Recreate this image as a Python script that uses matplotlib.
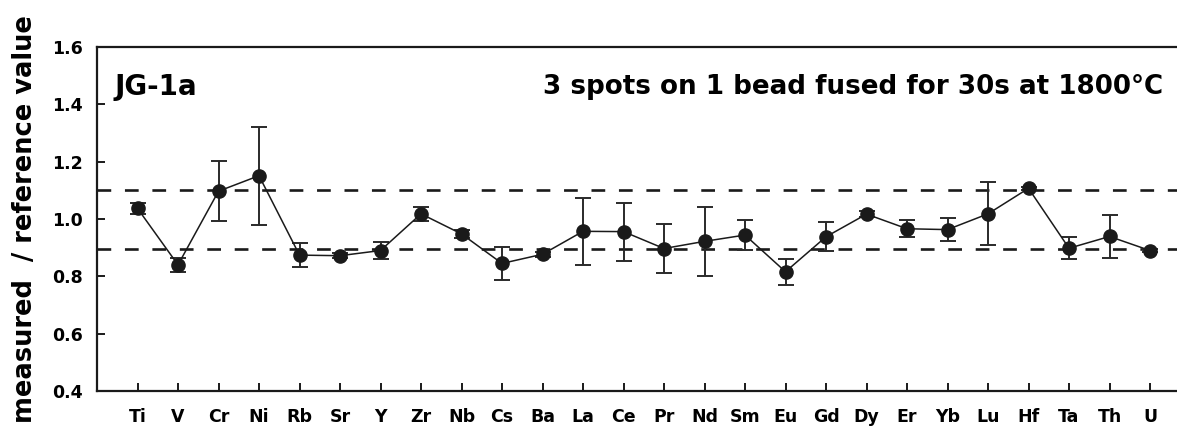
import matplotlib
matplotlib.use("Agg")
import matplotlib.pyplot as plt
import numpy as np

plt.rcParams['font.family'] = ['DejaVu Sans']
plt.rcParams['font.weight'] = 'bold'

elements = ["Ti", "V", "Cr", "Ni", "Rb", "Sr", "Y", "Zr", "Nb", "Cs", "Ba", "La", "Ce",
            "Pr", "Nd", "Sm", "Eu", "Gd", "Dy", "Er", "Yb", "Lu", "Hf", "Ta", "Th", "U"]
ratio = [1.037, 0.840, 1.097, 1.151, 0.874, 0.872, 0.890, 1.018, 0.948, 0.845, 0.877, 0.957, 0.956,
         0.897, 0.922, 0.944, 0.816, 0.938, 1.017, 0.966, 0.963, 1.018, 1.107, 0.898, 0.939, 0.890]
err = [0.018, 0.025, 0.105, 0.171, 0.042, 0.008, 0.030, 0.025, 0.014, 0.058, 0.008, 0.116, 0.101,
       0.085, 0.120, 0.051, 0.045, 0.050, 0.010, 0.030, 0.040, 0.110, 0.005, 0.039, 0.076, 0.006]
limits = [1.1, 0.895]

dark = '#1a1a1a'

fig = plt.figure(figsize=(11.77, 4.29), dpi=100)
ax = fig.add_axes([97 / 1177, 38 / 429, 1093.5 / 1177, 344 / 429])

x = np.arange(len(elements))
for lim in limits:
    ax.axhline(lim, color=dark, lw=1.9, dashes=(5.2, 5.2), zorder=1)

ax.errorbar(x, ratio, yerr=err, fmt='-o', color=dark, lw=1.1, ms=9.5,
            ecolor='#2a2a2a', elinewidth=1.4, capsize=5.5, capthick=1.4, zorder=3)

ax.set_xlim(-1, 26)
ax.set_ylim(0.4, 1.6)
ax.set_yticks([0.4, 0.6, 0.8, 1.0, 1.2, 1.4, 1.6])
ax.set_xticks(x)
ax.set_xticklabels(elements)
ax.tick_params(direction='in', length=6, width=1.4, labelsize=12.5, color=dark)
ax.tick_params(axis='x', pad=12)
ax.tick_params(axis='y', pad=10)
for lab in ax.get_xticklabels() + ax.get_yticklabels():
    lab.set_fontweight('bold')
for side in ['left', 'bottom', 'top']:
    ax.spines[side].set_linewidth(1.6)
    ax.spines[side].set_color(dark)
ax.spines['right'].set_visible(False)

ax.set_ylabel('measured  / reference value', fontsize=18.5, fontweight='bold')
ax.yaxis.set_label_coords(-0.054, 0.5)

ax.text(0.016, 0.885, 'JG-1a', transform=ax.transAxes, fontsize=20, fontweight='bold',
        ha='left', va='center')
ax.text(1066 / 1093.5, 0.885, '3 spots on 1 bead fused for 30s at 1800°C', transform=ax.transAxes,
        fontsize=18.8, fontweight='bold', ha='right', va='center')

fig.savefig('out.png', dpi=100)
